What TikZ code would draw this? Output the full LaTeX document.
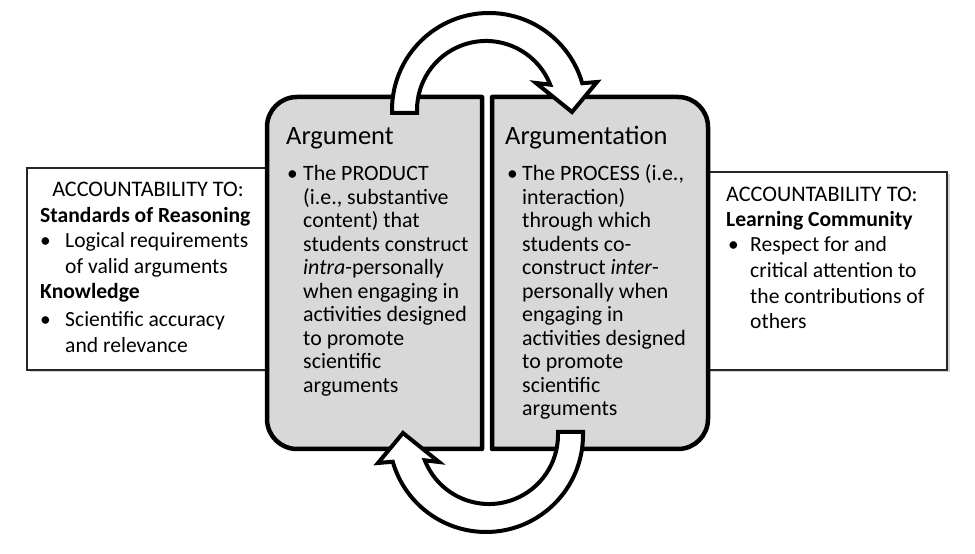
\documentclass[tikz,border=0pt]{standalone}
\usepackage{fontspec}
\setmainfont{Carlito}
\definecolor{boxgray}{HTML}{D8D8D8}
\definecolor{shadowgray}{HTML}{D6D6D6}
\begin{document}
\begin{tikzpicture}[x=1pt,y=1pt,
  graybox/.style={draw=black, line width=4.5pt, fill=boxgray, line join=round},
  whitebox/.style={draw=black!85, line width=1.3pt, fill=white},
  wshadow/.style={fill=shadowgray, draw=none},
  bigarrow/.style={draw=black, line width=4pt, fill=white, line join=miter},
  txt/.style={anchor=base west, inner sep=0pt, text width=240pt, align=flush left},
  gtxt/.style={txt, font=\fontsize{21.9}{23.5}\selectfont},
  wtxt/.style={txt, font=\fontsize{21.6}{25.8}\selectfont},
  rtxt/.style={txt, font=\fontsize{21.6}{25.6}\selectfont},
  bul/.style={anchor=base west, inner sep=0pt, font=\fontsize{21.4}{23.5}\selectfont},
  title/.style={anchor=base west, inner sep=0pt, font=\fontsize{26.5}{30}\selectfont},
  line/.style={anchor=base west, inner sep=0pt, font=\fontsize{21.6}{25}\selectfont},
  acc/.style={anchor=base west, inner sep=0pt, font=\fontsize{22.2}{25}\selectfont}
]
\useasboundingbox (0,0) rectangle (975,554);
\fill[white] (0,0) rectangle (975,554);

% white side boxes
\fill[wshadow] (29.5,181.5) rectangle (320,383.5);
\draw[whitebox] (27,184) rectangle (320,386);
\fill[wshadow] (662,181.5) rectangle (949.5,379.5);
\draw[whitebox] (660,184) rectangle (947,382);

% grey boxes
\draw[graybox] (482,457) -- (297,457) arc[start angle=90, end angle=180, radius=30pt]
  -- (267,135) arc[start angle=180, end angle=270, radius=30pt] -- (482,105) -- cycle;
\draw[graybox] (492,457) -- (678,457) arc[start angle=90, end angle=0, radius=30pt]
  -- (708,135) arc[start angle=0, end angle=-90, radius=30pt] -- (492,105) -- cycle;

% curved arrows
\draw[bigarrow] (392,441) -- (392,444) arc[start angle=180, end angle=16, radius=97pt]
  -- (597,472) -- (572,442) -- (536,471) -- (550.2,469.3)
  arc[start angle=21.5, end angle=180, radius=69pt] -- (417,441) -- cycle;
\begin{scope}[rotate around={180:(487.5,281.5)}]
\draw[bigarrow] (392,441) -- (392,444) arc[start angle=180, end angle=16, radius=97pt]
  -- (597,472) -- (572,442) -- (536,471) -- (550.2,469.3)
  arc[start angle=21.5, end angle=180, radius=69pt] -- (417,441) -- cycle;
\end{scope}

% left white box text
\node[acc, anchor=base] (lacc) at (148,357) {ACCOUNTABILITY TO:};
\node[line] (lstd) at (40,331) {\textbf{Standards of Reasoning}};
\node[bul] (lb1) at (40,306) {•};
\node[wtxt] (lt1) at (65,306) {Logical requirements\\of valid arguments};
\node[line] (lknow) at (40,255) {\textbf{Knowledge}};
\node[bul] (lb2) at (40,227) {•};
\node[wtxt] (lt2) at (65,227) {Scientific accuracy\\and relevance};

% right white box text
\node[acc] (racc) at (726,352) {ACCOUNTABILITY TO:};
\node[line] (rlc) at (726,327) {\textbf{Learning Community}};
\node[bul] (rb) at (728,302) {•};
\node[rtxt] (rt) at (750,302) {Respect for and\\critical attention to\\the contributions of\\others};

% left grey box text
\node[title] (argt) at (286,409) {Argument};
\node[bul] (gb1) at (287,373) {•};
\node[gtxt] (gt1) at (303,373) {The PRODUCT\\(i.e., substantive\\content) that\\students construct\\\textit{intra}-personally\\when engaging in\\activities designed\\to promote\\scientific\\arguments};

% right grey box text
\node[title] (argnt) at (505,409) {Argumentation};
\node[bul] (gb2) at (507,373) {•};
\node[gtxt] (gt2) at (522,373) {The PROCESS (i.e.,\\interaction)\\through which\\students co-\\construct \textit{inter}-\\personally when\\engaging in\\activities designed\\to promote\\scientific\\arguments};
\end{tikzpicture}
\end{document}
